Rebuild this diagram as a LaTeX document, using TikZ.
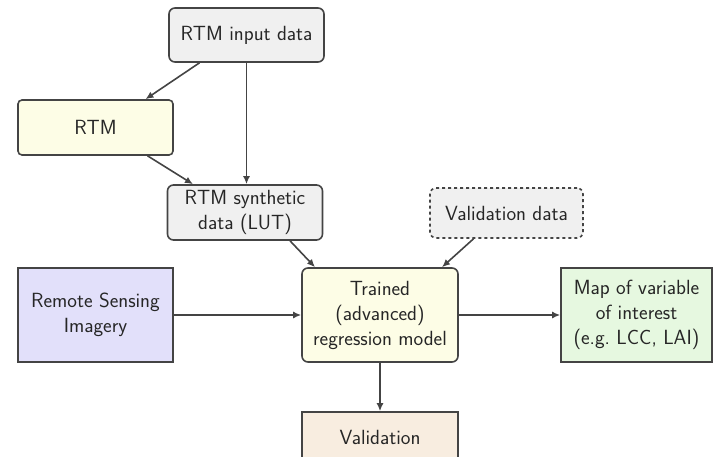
\documentclass[tikz,border=0pt]{standalone}
\usetikzlibrary{arrows.meta}
\definecolor{linec}{HTML}{444444}
\definecolor{grayf}{HTML}{F0F0F0}
\definecolor{yellf}{HTML}{FDFDE6}
\definecolor{lavf}{HTML}{E2E0FA}
\definecolor{greenf}{HTML}{E6F8E0}
\definecolor{beigef}{HTML}{F8EDE0}
\definecolor{textc}{HTML}{262626}
\tikzset{
  box/.style={draw=linec, line width=1.6pt, minimum width=155pt, align=center,
    font=\sffamily\fontsize{20.5}{25}\selectfont, text=textc, inner sep=2pt},
  rbox/.style={box, rounded corners=6pt},
  conn/.style={draw=linec, line width=1.6pt, -{Latex[length=8pt,width=7pt]}}
}
\begin{document}
\begin{tikzpicture}[x=1pt,y=-1pt]
\useasboundingbox (0,0) rectangle (714,457);
\node[rbox, fill=grayf, minimum height=54pt] (inp) at (246.5,35) {RTM input data};
\node[rbox, rounded corners=4pt, fill=yellf, minimum height=55pt] (rtm) at (95.5,127.5) {RTM};
\node[rbox, fill=grayf, minimum height=55pt] (lut) at (245,212.5) {RTM synthetic\\data (LUT)};
\node[rbox, fill=grayf, dashed, minimum height=50pt, minimum width=153pt] (vd) at (506.5,213) {Validation data};
\node[box, fill=lavf, minimum height=94pt] (rs) at (95.5,315) {Remote Sensing\\Imagery};
\node[rbox, fill=yellf, minimum height=94pt, minimum width=156pt] (tr) at (380,315) {Trained\\(advanced)\\regression model};
\node[box, fill=greenf, minimum height=94pt, minimum width=151pt] (map) at (636.5,315) {Map of variable\\of interest\\(e.g.\ LCC, LAI)};
\node[box, fill=beigef, minimum height=50pt, minimum width=156pt] (val) at (380,437) {Validation};
\draw[conn] ([xshift=-47pt]inp.south) -- ([xshift=50pt]rtm.north);
\draw[conn] (inp.south) -- (lut.north -| inp.south);
\draw[conn] ([xshift=52pt]rtm.south) -- ([xshift=-52pt]lut.north);
\draw[conn] ([xshift=45pt]lut.south) -- ([xshift=-65pt]tr.north);
\draw[conn] ([xshift=-33pt]vd.south) -- ([xshift=62pt]tr.north);
\draw[conn] (rs.east) -- (tr.west);
\draw[conn] (tr.east) -- (map.west);
\draw[conn] (tr.south) -- (val.north);
\end{tikzpicture}
\end{document}
